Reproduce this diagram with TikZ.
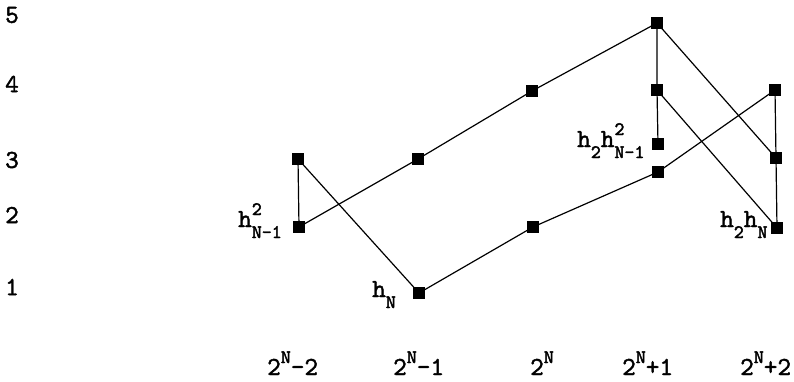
\documentclass[tikz,border=0pt]{standalone}
\usepackage{fontspec}
\newfontfamily\labfont[FakeBold=1.6]{lmmono10-regular.otf}
\newfontfamily\scrfont[FakeBold=2.2]{lmmono10-regular.otf}
\newcommand\hsub[1]{\raisebox{-11pt}{\scrfont\fontsize{19}{19}\selectfont #1}}
\newcommand\hsup[1]{\raisebox{12pt}{\scrfont\fontsize{19}{19}\selectfont #1}}
\newcommand\hsupsub[2]{\rlap{\hsup{#1}}\hsub{#2}}
\begin{document}
\begin{tikzpicture}[x=1pt,y=-1pt,
  sq/.style={fill=black,draw=none,minimum size=12pt,inner sep=0pt},
  edge/.style={line width=1.2pt},
  lab/.style={inner sep=0pt,font=\labfont\fontsize{26}{26}\selectfont},
  txt/.style={lab,anchor=base west}]
\useasboundingbox (0,0) rectangle (794,381);
% squares
\node[sq] (a0) at (298,159) {};
\node[sq] (b0) at (299,227) {};
\node[sq] (a1) at (418,159) {};
\node[sq] (b1) at (419,293) {};
\node[sq] (a2) at (532,91) {};
\node[sq] (b2) at (533,227) {};
\node[sq] (c3) at (657,23) {};
\node[sq] (d3) at (657,90) {};
\node[sq] (e3) at (658,144) {};
\node[sq] (f3) at (658,172) {};
\node[sq] (a4) at (775,90) {};
\node[sq] (b4) at (776,158) {};
\node[sq] (c4) at (777,228) {};
% edges
\draw[edge] (a0.center) -- (b0.center);
\draw[edge] (a0.center) -- (b1.center);
\draw[edge] (b0.center) -- (a1.center) -- (a2.center) -- (c3.center);
\draw[edge] (b1.center) -- (b2.center) -- (f3.center) -- (a4.center);
\draw[edge] (c3.center) -- (d3.center) -- (e3.center);
\draw[edge] (c3.center) -- (b4.center);
\draw[edge] (d3.center) -- (c4.center);
\draw[edge] (a4.center) -- (b4.center) -- (c4.center);
% redraw squares on top
\foreach \n in {a0,b0,a1,b1,a2,b2,c3,d3,e3,f3,a4,b4,c4}{\fill (\n.south west) rectangle (\n.north east);}
% y labels
\node[lab] (y5) at (12,15) {5};
\node[lab] (y4) at (12,84) {4};
\node[lab] (y3) at (12,160) {3};
\node[lab] (y2) at (12,215) {2};
\node[lab] (y1) at (12,287) {1};
% x labels
\node[txt] (x0) at (267,375) {2\hsup{N}-2};
\node[txt] (x1) at (393,375) {2\hsup{N}-1};
\node[txt] (x2) at (530,375) {2\hsup{N}};
\node[txt] (x3) at (622,375) {2\hsup{N}+1};
\node[txt] (x4) at (740,375) {2\hsup{N}+2};
% point labels
\node[txt] (l0) at (238,227) {h\hsupsub{2}{N-1}};
\node[txt] (l1) at (372,297) {h\hsub{N}};
\node[txt] (l2) at (577,147) {h\hsub{2}h\hsupsub{2}{N-1}};
\node[txt] (l3) at (720,227) {h\hsub{2}h\hsub{N}};
\end{tikzpicture}
\end{document}
